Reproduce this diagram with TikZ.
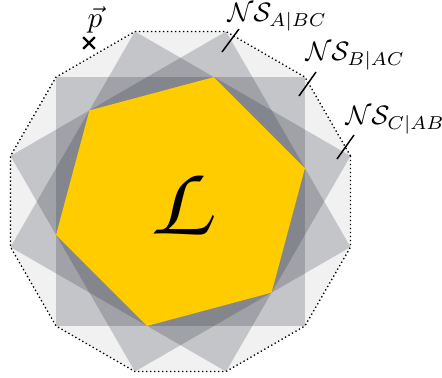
\documentclass[tikz,border=0pt]{standalone}
\usetikzlibrary{calc,shapes.misc}
\definecolor{dodfill}{RGB}{241,241,241}
\definecolor{sqfill}{RGB}{20,25,40}
\definecolor{lyellow}{RGB}{255,204,0}
\begin{document}
\begin{tikzpicture}[x=0.375pt,y=0.375pt,
  sq/.style={fill=sqfill,fill opacity=0.2,draw=none},
  lbl/.style={anchor=south west,inner sep=0pt,font=\fontsize{10.4}{12}\selectfont},
  leader/.style={line width=0.55pt},
  crossmark/.style={cross out,draw,minimum size=3.6pt,inner sep=0pt,line width=0.8pt}]
\useasboundingbox (-180.5,-175.5) rectangle (261.5,201.5);
% dodecagon
\fill[dodfill] (15:176) \foreach \a in {45,75,...,345}{ -- (\a:176)} -- cycle;
% squares
\fill[sq] (45:176) -- (135:176) -- (225:176) -- (315:176) -- cycle;
\fill[sq] (15:176) -- (105:176) -- (195:176) -- (285:176) -- cycle;
\fill[sq] (75:176) -- (165:176) -- (255:176) -- (345:176) -- cycle;
% hexagon
\fill[lyellow] (15:128.8) \foreach \a in {75,135,...,315}{ -- (\a:128.8)} -- cycle;
% dotted border
\draw[densely dotted,line width=0.5pt] (15:176) \foreach \a in {45,75,...,345}{ -- (\a:176)} -- cycle;
% L
\node (L) at (-1,-2.5) {\fontsize{38}{40}\usefont{OT1}{pzc}{mb}{it}L};
% labels
\node[lbl] (la) at (46.5,170) {$\mathcal{N}\mathcal{S}_{A|BC}$};
\node[lbl] (lb) at (124.5,130.5) {$\mathcal{N}\mathcal{S}_{B|AC}$};
\node[lbl] (lc) at (164.5,66.5) {$\mathcal{N}\mathcal{S}_{C|AB}$};
\coordinate (pa) at (41.5,149.5);
\coordinate (pb) at (118.5,105.5);
\coordinate (pc) at (156.5,42.5);
\draw[leader] ($(la.south west)+(12,2.5)$) -- (pa);
\draw[leader] ($(lb.south west)+(11,-1)$) -- (pb);
\draw[leader] ($(lc.south west)+(9,0)$) -- (pc);
% p vector
\node[crossmark] (px) at (-91.5,158.5) {};
\node[anchor=south,inner sep=0pt,font=\fontsize{11}{13}\selectfont] (pv) at (-85.5,168) {$\vec p$};
\end{tikzpicture}
\end{document}
